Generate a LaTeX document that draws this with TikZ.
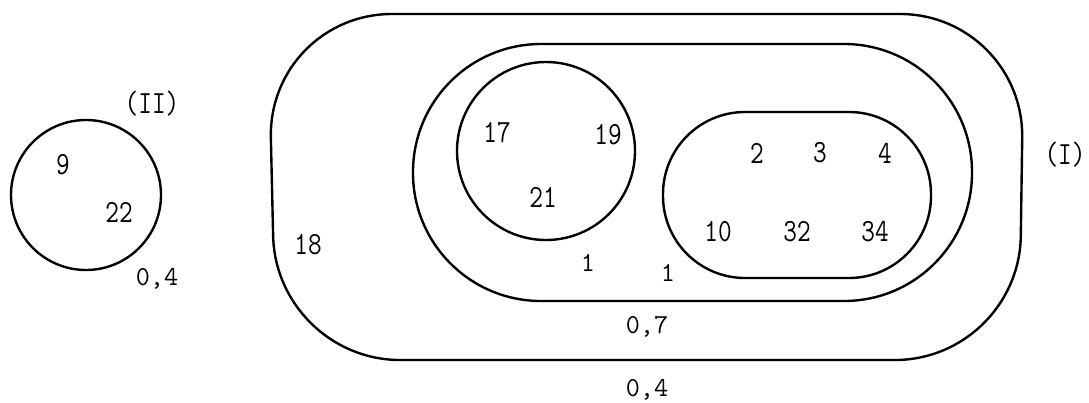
\documentclass[tikz,border=0pt]{standalone}
\usetikzlibrary{positioning}
\tikzset{
  setline/.style={line width=1.7pt},
  elem/.style={font=\ttfamily\fontsize{23}{26}\selectfont, inner sep=0pt, xscale=0.82},
  prob/.style={font=\ttfamily\fontsize{19.5}{22}\selectfont, inner sep=0pt}
}
\begin{document}
\begin{tikzpicture}[x=0.025cm, y=-0.025cm]
        % one unit = one pixel of the 1089 x 402 sheet, y running down
        \useasboundingbox (0, 0) rectangle (1089, 402);

        % ── Set (II): single circle on the left ─────────────────────────
        \draw[setline] (86, 195) circle [radius=75];
        \node[elem] (lblII) at (152, 104) {(II)};
        \node[elem] (e9)    at (63, 165)  {9};
        \node[elem] (e22)   at (119, 212) {22};
        \node[prob] (pII)   at (157, 279) {0,4};

        % ── Set (I): outer band, slightly slanted sides ─────────────────
        \draw[setline, rounded corners=3.1cm]
              (268, 14) -- (1024, 14) -- (1019, 360) -- (276, 360) -- cycle;
        \node[elem] (lblI)  at (1065, 155) {(I)};
        \node[elem] (e18)   at (308, 245)  {18};
        \node[prob] (pOut)  at (647, 390)  {0,4};

        % ── Middle band ─────────────────────────────────────────────────
        \draw[setline, rounded corners=3.2cm]
              (413, 44) rectangle (972, 301);
        \node[prob] (pMid)  at (647, 327) {0,7};
        \node[prob] (oneA)  at (588, 263) {1};
        \node[prob] (oneB)  at (668, 273) {1};

        % ── Circle 17 / 19 / 21 ─────────────────────────────────────────
        \draw[setline] (546, 151) circle [radius=89];
        \node[elem] (e17)   at (497, 133) {17};
        \node[elem] (e19)   at (608, 135) {19};
        \node[elem] (e21)   at (543, 197) {21};

        % ── Inner stadium 2 ... 34 ──────────────────────────────────────
        \draw[setline, rounded corners=2.05cm]
              (663, 112) rectangle (931, 278);
        \node[elem] (e2)    at (757, 153) {2};
        \node[elem] (e3)    at (820, 153) {3};
        \node[elem] (e4)    at (885, 153) {4};
        \node[elem] (e10)   at (718, 232) {10};
        \node[elem] (e32)   at (797, 232) {32};
        \node[elem] (e34)   at (875, 232) {34};
      \end{tikzpicture}
\end{document}
